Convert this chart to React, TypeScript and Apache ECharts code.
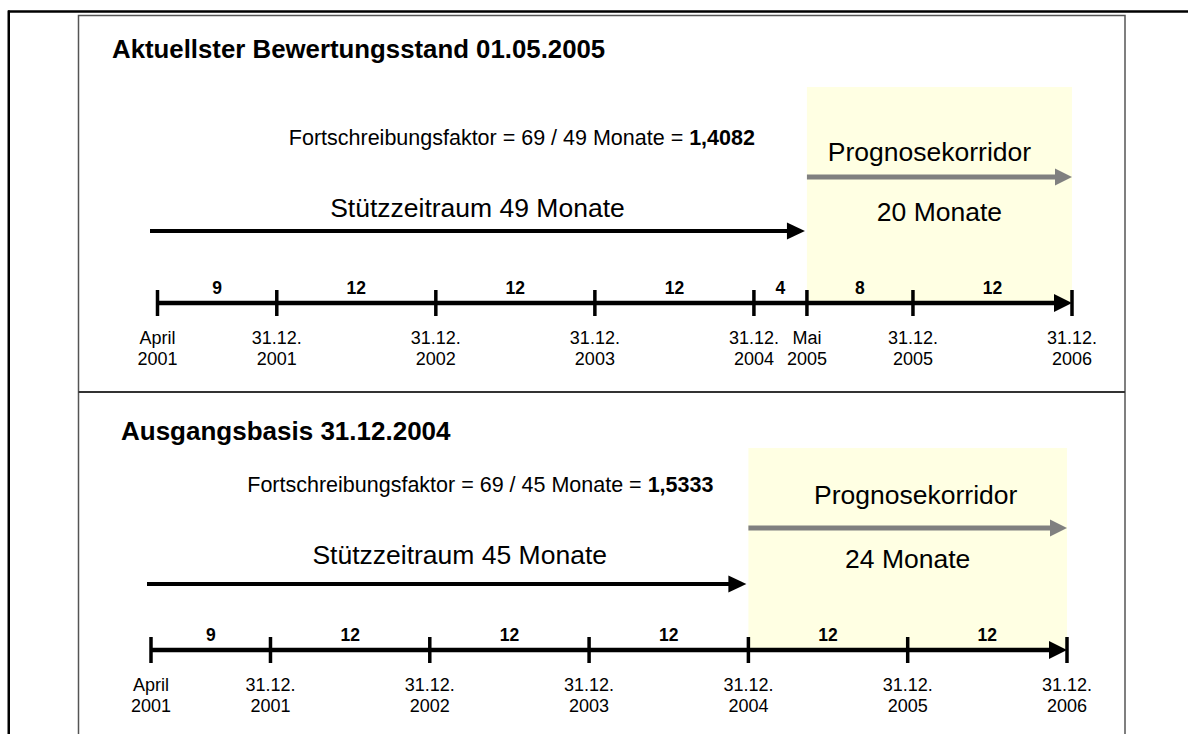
import React, { useEffect, useRef } from "react";
import * as echarts from "echarts";

// ---------- data ----------
const horizonMonths = 69;

const topTitle = "Aktuellster Bewertungsstand 01.05.2005";
const topBaseMonths = 49;
const topSegments = [9, 12, 12, 12, 4, 8, 12];
const topDateLabels = [
  "April\n2001",
  "31.12.\n2001",
  "31.12.\n2002",
  "31.12.\n2003",
  "31.12.\n2004",
  "Mai\n2005",
  "31.12.\n2005",
  "31.12.\n2006",
];

const bottomTitle = "Ausgangsbasis 31.12.2004";
const bottomBaseMonths = 45;
const bottomSegments = [9, 12, 12, 12, 12, 12];
const bottomDateLabels = [
  "April\n2001",
  "31.12.\n2001",
  "31.12.\n2002",
  "31.12.\n2003",
  "31.12.\n2004",
  "31.12.\n2005",
  "31.12.\n2006",
];

const FONT = '"Liberation Sans", Arial, Helvetica, sans-serif';

type Layout = {
  left: number;
  width: number;
  top: number;
  height: number;
  grayDy: number;
  prognoseDy: number;
  prognoseDx: number;
  monateDy: number;
  blackDy: number;
  stuetzDy: number;
  stuetzDx: number;
  arrowStartDx: number;
  factorDy: number;
  factorGap: number;
};

const topLayout: Layout = {
  left: 157.5,
  width: 914.5,
  top: 87,
  height: 216,
  grayDy: 126,
  prognoseDy: 151,
  prognoseDx: -10,
  monateDy: 91,
  blackDy: 72,
  stuetzDy: 95,
  stuetzDx: 0,
  arrowStartDx: 7.5,
  factorDy: 165,
  factorGap: 52,
};

const bottomLayout: Layout = {
  left: 151,
  width: 916,
  top: 448,
  height: 202,
  grayDy: 122,
  prognoseDy: 155,
  prognoseDx: 8,
  monateDy: 91,
  blackDy: 66,
  stuetzDy: 95,
  stuetzDx: 13,
  arrowStartDx: 4,
  factorDy: 165,
  factorGap: 35,
};

function txt(x: number, y: number, text: string, size: number, opts: any = {}) {
  return {
    type: "text",
    x,
    y,
    style: {
      text,
      fill: "#000",
      fontSize: size,
      fontFamily: FONT,
      fontWeight: opts.bold ? "bold" : "normal",
      align: opts.align || "center",
      verticalAlign: opts.va || "middle",
      lineHeight: opts.lineHeight,
    },
  };
}

function buildPanel(i: number, segments: number[], dateLabels: string[], base: number, L: Layout) {
  const ticks = segments.reduce((acc: number[], s) => {
    acc.push(acc[acc.length - 1] + s);
    return acc;
  }, [0]);
  const mids = segments.map((s, k) => [ticks[k] + s / 2, s]);
  const factor = (horizonMonths / base).toFixed(4).replace(".", ",");

  const grid = { left: L.left, width: L.width, top: L.top, height: L.height };
  const xAxis = { type: "value", gridIndex: i, min: 0, max: horizonMonths, show: false };
  const yAxis = { type: "value", gridIndex: i, min: 0, max: 1, show: false };
  const common = { type: "custom", xAxisIndex: i, yAxisIndex: i, clip: false, silent: true };

  const series = [
    {
      ...common,
      name: "corridor" + i,
      z: 1,
      data: [[base, horizonMonths]],
      renderItem: (_p: any, api: any) => {
        const x0 = api.coord([api.value(0), 0])[0];
        const x1 = api.coord([api.value(1), 0])[0];
        const axisY = api.coord([0, 0])[1];
        const topY = api.coord([0, 1])[1];
        const gy = axisY - L.grayDy;
        const months = api.value(1) - api.value(0);
        return {
          type: "group",
          children: [
            {
              type: "rect",
              shape: { x: x0, y: topY, width: x1 - x0, height: axisY - topY },
              style: { fill: "#FFFFE3" },
            },
            {
              type: "line",
              shape: { x1: x0, y1: gy, x2: x1 - 15, y2: gy },
              style: { stroke: "#808080", lineWidth: 5 },
            },
            {
              type: "polygon",
              shape: { points: [[x1 - 17, gy - 8.5], [x1, gy], [x1 - 17, gy + 8.5]] },
              style: { fill: "#808080" },
            },
            txt((x0 + x1) / 2 + L.prognoseDx, axisY - L.prognoseDy, "Prognosekorridor", 26.5),
            txt((x0 + x1) / 2, axisY - L.monateDy, months + " Monate", 26.5),
            {
              type: "text",
              x: x0 - L.factorGap,
              y: axisY - L.factorDy,
              style: {
                text: `{n|Fortschreibungsfaktor = ${horizonMonths} / ${base} Monate = }{b|${factor}}`,
                align: "right",
                verticalAlign: "middle",
                rich: {
                  n: { fontSize: 21.5, fontFamily: FONT, fill: "#000" },
                  b: { fontSize: 21.5, fontFamily: FONT, fontWeight: "bold", fill: "#000" },
                },
              },
            },
          ],
        };
      },
    },
    {
      ...common,
      name: "stuetz" + i,
      z: 2,
      data: [[0, base]],
      renderItem: (_p: any, api: any) => {
        const xs = api.coord([api.value(0), 0])[0] - L.arrowStartDx;
        const xe = api.coord([api.value(1), 0])[0] - 2;
        const axisY = api.coord([0, 0])[1];
        const ay = axisY - L.blackDy;
        return {
          type: "group",
          children: [
            {
              type: "line",
              shape: { x1: xs, y1: ay, x2: xe - 15, y2: ay },
              style: { stroke: "#000", lineWidth: 4 },
            },
            {
              type: "polygon",
              shape: { points: [[xe - 18, ay - 8.5], [xe, ay], [xe - 18, ay + 8.5]] },
              style: { fill: "#000" },
            },
            txt((xs + xe) / 2 + L.stuetzDx, axisY - L.stuetzDy, `Stützzeitraum ${api.value(1)} Monate`, 26.5),
          ],
        };
      },
    },
    {
      ...common,
      name: "axis" + i,
      z: 2,
      data: [[0, horizonMonths]],
      renderItem: (_p: any, api: any) => {
        const p0 = api.coord([api.value(0), 0]);
        const p1 = api.coord([api.value(1), 0]);
        const y = p0[1];
        return {
          type: "group",
          children: [
            {
              type: "line",
              shape: { x1: p0[0], y1: y, x2: p1[0] - 14, y2: y },
              style: { stroke: "#000", lineWidth: 4.5 },
            },
            {
              type: "polygon",
              shape: { points: [[p1[0] - 18, y - 9], [p1[0], y], [p1[0] - 18, y + 9]] },
              style: { fill: "#000" },
            },
          ],
        };
      },
    },
    {
      ...common,
      name: "ticks" + i,
      z: 3,
      data: ticks.map((t, k) => [t, k]),
      renderItem: (_p: any, api: any) => {
        const p = api.coord([api.value(0), 0]);
        const k = api.value(1);
        return {
          type: "group",
          children: [
            {
              type: "line",
              shape: { x1: p[0], y1: p[1] - 13, x2: p[0], y2: p[1] + 13 },
              style: { stroke: "#000", lineWidth: 3.5 },
            },
            txt(p[0], p[1] + 24, dateLabels[k], 18, { va: "top", lineHeight: 21 }),
          ],
        };
      },
    },
    {
      ...common,
      name: "segments" + i,
      z: 3,
      data: mids,
      renderItem: (_p: any, api: any) => {
        const p = api.coord([api.value(0), 0]);
        return txt(p[0], p[1] - 15, String(api.value(1)), 17.5, { bold: true });
      },
    },
  ];
  return { grid, xAxis, yAxis, series };
}

export default function App() {
  const ref = useRef<HTMLDivElement>(null);
  useEffect(() => {
    document.body.style.margin = "0";
    if (!ref.current) return;
    const chart = echarts.init(ref.current, undefined, { renderer: "svg" });
    const p0 = buildPanel(0, topSegments, topDateLabels, topBaseMonths, topLayout);
    const p1 = buildPanel(1, bottomSegments, bottomDateLabels, bottomBaseMonths, bottomLayout);
    chart.setOption({
      animation: false,
      backgroundColor: "#fff",
      grid: [p0.grid, p1.grid],
      xAxis: [p0.xAxis, p1.xAxis],
      yAxis: [p0.yAxis, p1.yAxis],
      series: [...p0.series, ...p1.series],
      graphic: [
        { type: "line", shape: { x1: 8, y1: 11.5, x2: 1188, y2: 11.5 }, style: { stroke: "#000", lineWidth: 2.5 } },
        { type: "line", shape: { x1: 8.75, y1: 10.5, x2: 8.75, y2: 734 }, style: { stroke: "#000", lineWidth: 2.5 } },
        {
          type: "polyline",
          shape: { points: [[78.5, 734], [78.5, 15.5], [1125, 15.5], [1125, 734]] },
          style: { stroke: "#555", lineWidth: 1.5, fill: null },
        },
        { type: "line", shape: { x1: 78.5, y1: 392, x2: 1125, y2: 392 }, style: { stroke: "#333", lineWidth: 2 } },
        {
          type: "text",
          x: 112,
          y: 49,
          style: { text: topTitle, fill: "#000", fontSize: 25.8, fontWeight: "bold", fontFamily: FONT, verticalAlign: "middle" },
        },
        {
          type: "text",
          x: 121,
          y: 431,
          style: { text: bottomTitle, fill: "#000", fontSize: 26, fontWeight: "bold", fontFamily: FONT, verticalAlign: "middle" },
        },
      ],
    });
    return () => chart.dispose();
  }, []);
  return <div ref={ref} style={{ width: 1188, height: 734 }} />;
}
